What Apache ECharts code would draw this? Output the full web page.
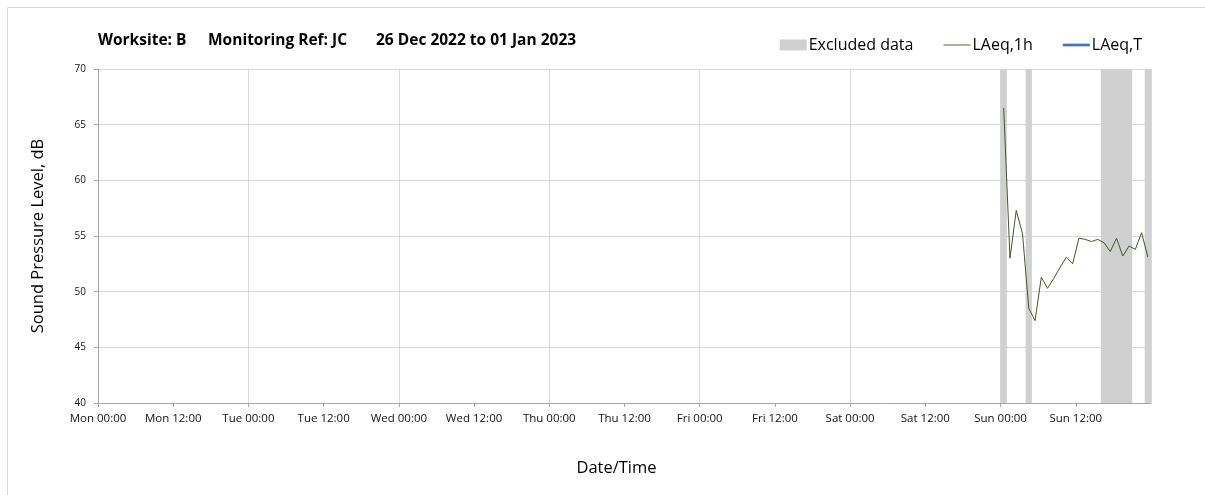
<!DOCTYPE html>
<html>
<head>
<meta charset="utf-8">
<script src="https://cdn.jsdelivr.net/npm/echarts@6/dist/echarts.min.js"></script>
<style>
html,body{margin:0;padding:0;background:#fff;}
#c{width:1205px;height:495px;}
</style>
</head>
<body>
<div id="c"></div>
<script>
// ---- data ----
const startTime = '2022-12-26T00:00';
const endTime = '2023-01-02T00:00';
const tickLabels = ['Mon 00:00','Mon 12:00','Tue 00:00','Tue 12:00','Wed 00:00','Wed 12:00','Thu 00:00','Thu 12:00','Fri 00:00','Fri 12:00','Sat 00:00','Sat 12:00','Sun 00:00','Sun 12:00'];
const laeq1hTimes = ['2023-01-01T00:30','2023-01-01T01:30','2023-01-01T02:30','2023-01-01T03:30','2023-01-01T04:30','2023-01-01T05:30','2023-01-01T06:30','2023-01-01T07:30','2023-01-01T08:30','2023-01-01T09:30','2023-01-01T10:30','2023-01-01T11:30','2023-01-01T12:30','2023-01-01T13:30','2023-01-01T14:30','2023-01-01T15:30','2023-01-01T16:30','2023-01-01T17:30','2023-01-01T18:30','2023-01-01T19:30','2023-01-01T20:30','2023-01-01T21:30','2023-01-01T22:30','2023-01-01T23:30'];
const laeq1hValues = [66.5,53.0,57.3,55.2,48.5,47.4,51.3,50.3,51.2,52.2,53.1,52.5,54.8,54.7,54.5,54.7,54.4,53.6,54.8,53.2,54.1,53.8,55.3,53.1];
const laeqTTimes = [];
const laeqTValues = [];
const excludedStarts = ['2023-01-01T00:00','2023-01-01T04:00','2023-01-01T16:00','2023-01-01T23:00'];
const excludedEnds   = ['2023-01-01T01:00','2023-01-01T05:00','2023-01-01T21:00','2023-01-02T00:00'];
const titleParts = ['Worksite: B','Monitoring Ref: JC','26 Dec 2022 to 01 Jan 2023'];

// ---- helpers ----
const t0 = new Date(startTime).getTime();
const toH = s => (new Date(s).getTime() - t0) / 3600000;
const spanH = toH(endTime);

const FONT = '"Open Sans", "DejaVu Sans", sans-serif';
const chart = echarts.init(document.getElementById('c'), null, {renderer:'canvas'});

const areas = excludedStarts.map((s,i)=>[{xAxis: toH(s)},{xAxis: toH(excludedEnds[i])}]);
const TS = {fontSize:15.5,fontWeight:'bold',color:'#000',fontFamily:FONT};

chart.setOption({
  animation:false,
  textStyle:{fontFamily:FONT},
  graphic:[
    {type:'line', shape:{x1:7.5,y1:7.5,x2:1205,y2:7.5}, style:{stroke:'#d9d9d9', lineWidth:1}, silent:true},
    {type:'line', shape:{x1:7.5,y1:7.5,x2:7.5,y2:495}, style:{stroke:'#d9d9d9', lineWidth:1}, silent:true}
  ],
  title:[
    {text:titleParts[0], left:93, top:28, textStyle:TS},
    {text:titleParts[1], left:203, top:28, textStyle:TS},
    {text:titleParts[2], left:371, top:28, textStyle:TS}
  ],
  legend:{
    right:58, top:32, itemGap:30, itemWidth:27, itemHeight:11,
    textStyle:{fontSize:16,color:'#000',fontFamily:FONT, padding:[0,0,0,-3]},
    data:[
      {name:'Excluded data', icon:'rect', itemStyle:{color:'#d0d0d0'}},
      {name:'LAeq,1h', icon:'path://M0,0 H30 V1 H0 Z', itemStyle:{color:'#3f5a22'}},
      {name:'LAeq,T', icon:'path://M0,0 H30 V3 H0 Z', itemStyle:{color:'#4472c4'}}
    ]
  },
  grid:{left:98, right:54, top:69, bottom:92, containLabel:false},
  xAxis:[{
    type:'value', min:0, max:spanH, interval:12,
    name:'Date/Time', nameLocation:'middle', nameGap:57,
    nameTextStyle:{fontSize:16.5,color:'#000',fontFamily:FONT, padding:[0,16,0,0]},
    axisLine:{show:true, lineStyle:{color:'#a6a6a6'}},
    axisTick:{show:true, length:4, lineStyle:{color:'#a6a6a6'}},
    axisLabel:{fontSize:11.5, color:'#111', margin:10, showMaxLabel:false,
      formatter:(v)=>{const i=Math.round(v/12); return i<tickLabels.length?tickLabels[i]:'';}},
    splitLine:{show:false}
  },{
    type:'value', min:0, max:spanH, interval:24, position:'bottom',
    axisLine:{show:false}, axisTick:{show:false}, axisLabel:{show:false},
    splitLine:{show:true, lineStyle:{color:'#d9d9d9'}}
  }],
  yAxis:{
    type:'value', min:40, max:70, interval:5,
    name:'Sound Pressure Level, dB', nameLocation:'middle', nameGap:51,
    nameTextStyle:{fontSize:16.5,color:'#000',fontFamily:FONT},
    axisLine:{show:true, lineStyle:{color:'#a6a6a6'}},
    axisTick:{show:true, length:4, lineStyle:{color:'#a6a6a6'}},
    axisLabel:{fontSize:10, color:'#111', margin:12},
    splitLine:{show:true, lineStyle:{color:'#d9d9d9'}}
  },
  series:[
    {name:'Excluded data', type:'line', data:[], itemStyle:{color:'#d0d0d0'},
      markArea:{silent:true, itemStyle:{color:'#d0d0d0'}, data:areas}},
    {name:'LAeq,1h', type:'line', showSymbol:false, symbol:'none',
      data:laeq1hTimes.map((t,i)=>[toH(t), laeq1hValues[i]]),
      lineStyle:{color:'#3f5a22', width:1}, itemStyle:{color:'#3f5a22'}, z:5},
    {name:'LAeq,T', type:'line', showSymbol:false, symbol:'none',
      data:laeqTTimes.map((t,i)=>[toH(t), laeqTValues[i]]),
      lineStyle:{color:'#4472c4', width:2.5}, itemStyle:{color:'#4472c4'}}
  ]
});
</script>
</body>
</html>
